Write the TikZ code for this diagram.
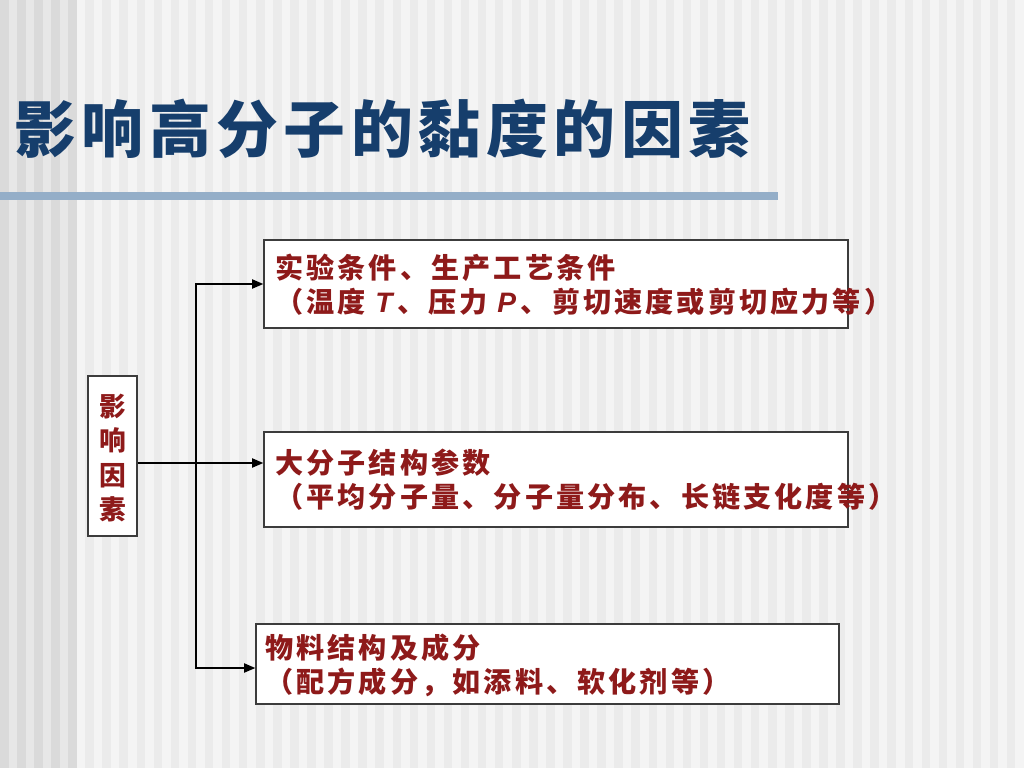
\documentclass[tikz,border=0pt]{standalone}
\usepackage{fontspec}
\usetikzlibrary{arrows.meta,positioning,fit}
\newfontfamily\cjk{Noto Sans CJK SC}[LetterSpace=11]
\newfontfamily\cjktitle{Noto Sans CJK SC}[LetterSpace=9]
\newfontfamily\latin{Liberation Sans}
\definecolor{titleblue}{HTML}{163E6C}
\definecolor{textred}{HTML}{8E1A1A}
\definecolor{rulesteel}{HTML}{94AEC8}
\definecolor{bgpale}{HTML}{F4F4F4}
\definecolor{bgstripe}{HTML}{EBEBEB}
\definecolor{bgdark}{HTML}{E7E7E7}
\definecolor{bgdarkstripe}{HTML}{DADADA}
\definecolor{framegray}{HTML}{3C3C3C}
\tikzset{
  factorbox/.style={draw=framegray, line width=1pt, fill=white, inner sep=0pt},
  factortext/.style={anchor=west, align=left, inner sep=0pt, text=textred,
    font=\cjk\bfseries\fontsize{20}{24.2}\selectfont},
  titletext/.style={anchor=west, inner sep=0pt, text=titleblue,
    font=\cjktitle\bfseries\fontsize{44}{50}\selectfont},
  arr/.style={-{Triangle[length=2.8mm, width=2.3mm]}, line width=1pt, draw=black}
}
\begin{document}
\begin{tikzpicture}[x=0.025cm, y=-0.025cm]
  \useasboundingbox (0,0) rectangle (1024,768);
  \fill[bgpale] (0,0) rectangle (1024,768);
  \fill[bgdark] (0,0) rectangle (77,768);
  \foreach \i in {0,...,4}
    \fill[bgdarkstripe] ({\i*17.0667},0) rectangle +(8.5,768);
  \foreach \i in {5,...,59}
    \fill[bgstripe] ({\i*17.0667},0) rectangle +(8.5,768);
  \fill[rulesteel] (0,192) rectangle (778,200);

  \node[titletext] (title) at (14,129) {影响高分子的黏度的因素};

  \node[factorbox, fit={(88,376) (137,536)}] (factor) {};
  \node[factortext, anchor=center, align=center,
    font=\cjk\bfseries\fontsize{19}{24.4}\selectfont] (factorlbl) at ([yshift=-0.5mm]factor.center) {影\\响\\因\\素};

  \node[factorbox, fit={(264,240) (848,328)}] (cond) {};
  \node[factortext] (condlbl) at (275,285)
    {实验条件、生产工艺条件\\（温度 {\latin\itshape T}\,、压力 {\latin\itshape P}\,、剪切速度或剪切应力等）};
  \node[factorbox, fit={(264,432) (848,527)}] (struct) {};
  \node[factortext] (structlbl) at (275,480)
    {大分子结构参数\\（平均分子量、分子量分布、长链支化度等）};
  \node[factorbox, fit={(256,624) (839,704)}] (mater) {};
  \node[factortext] (materlbl) at (265,665)
    {物料结构及成分\\（配方成分，如添料、软化剂等）};

  \coordinate (split) at (196,463);
  \draw[arr] (factor.east |- split) -- (split -| struct.west);
  \draw[arr] (split) |- (cond.west);
  \draw[arr] (split) |- ([yshift=-1mm]mater.west);
\end{tikzpicture}
\end{document}
